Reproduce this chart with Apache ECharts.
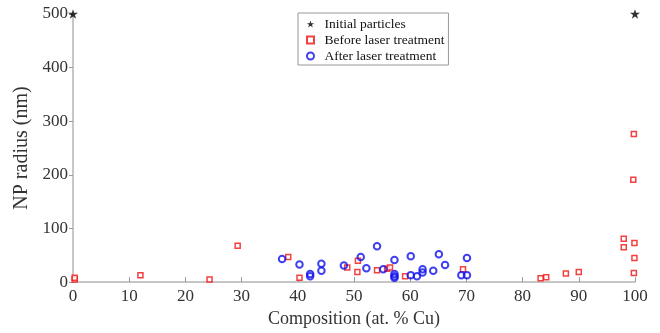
<!DOCTYPE html>
<html>
<head>
<meta charset="utf-8">
<script src="https://cdn.jsdelivr.net/npm/echarts@6/dist/echarts.min.js"></script>
<style>
  html, body { margin: 0; padding: 0; background: #fff; }
  #chart { width: 660px; height: 333px; }
</style>
</head>
<body>
<div id="chart"></div>
<script>
// initial particles (composition, radius)
const initialParticles = [[0, 500], [100, 500]];

// before laser treatment
const beforeLaser = [
  [0.3, 5], [0.3, 8], [12, 13], [24.3, 5], [29.3, 68],
  [38.3, 47], [40.3, 8], [48.8, 27], [50.7, 40], [50.6, 19],
  [54.1, 22], [55.9, 25], [56.4, 27], [59.1, 11], [69.4, 24],
  [83.2, 7], [84.2, 9], [87.7, 16], [90, 19],
  [98, 81], [98, 65], [99.9, 73], [99.9, 45], [99.8, 17],
  [99.8, 276], [99.7, 191]
];

// after laser treatment
const afterLaser = [
  [37.2, 43], [40.3, 33], [42.2, 15], [42.2, 11], [44.2, 34], [44.2, 21],
  [48.2, 31], [51.2, 47], [52.2, 26], [54.1, 67], [55.2, 24],
  [57.2, 41], [57.2, 15], [57.2, 11], [57.2, 8],
  [60.1, 48], [60.1, 13], [61.2, 11], [62.2, 24], [62.2, 18],
  [64.1, 21], [65.1, 52], [66.2, 32], [69.1, 13], [70.1, 45], [70.1, 13]
];

const seriesNames = ['Initial particles', 'Before laser treatment', 'After laser treatment'];
const xTitle = 'Composition (at. % Cu)';
const yTitle = 'NP radius (nm)';

const starPath = 'path://M50,0 L61.8,35.3 L99,35.3 L69,57.3 L80.4,92.7 L50,70.8 L19.6,92.7 L31,57.3 L1,35.3 L38.2,35.3 Z';
const squarePath = 'path://M0,0 L10,0 L10,10 L0,10 Z';
const fontFamily = '"Liberation Serif", "DejaVu Serif", serif';

const chart = echarts.init(document.getElementById('chart'));
chart.setOption({
  animation: false,
  backgroundColor: '#fff',
  textStyle: { fontFamily: fontFamily },
  grid: { left: 73, right: 25, top: 14, bottom: 45 },
  legend: {
    orient: 'vertical',
    left: 298,
    top: 13,
    width: 150,
    padding: [4, 4, 2, 8],
    itemGap: 2,
    itemWidth: 10,
    itemHeight: 7,
    symbolKeepAspect: true,
    borderColor: '#999',
    borderWidth: 1,
    textStyle: { fontFamily: fontFamily, fontSize: 13.5, color: '#111', padding: [0, 0, 0, 4] },
    data: [
      { name: seriesNames[0] },
      { name: seriesNames[1], icon: squarePath },
      { name: seriesNames[2] }
    ]
  },
  xAxis: {
    type: 'value',
    min: 0,
    max: 100,
    interval: 10,
    name: xTitle,
    nameLocation: 'middle',
    nameGap: 23,
    nameTextStyle: { fontFamily: fontFamily, fontSize: 18, color: '#333' },
    axisLine: { show: true, lineStyle: { color: '#b4b4b4', width: 1.5 } },
    axisTick: { show: true, inside: true, length: 5, lineStyle: { color: '#999' } },
    axisLabel: { fontFamily: fontFamily, fontSize: 17, color: '#333', margin: 6 },
    splitLine: { show: false }
  },
  yAxis: {
    type: 'value',
    min: 0,
    max: 500,
    interval: 100,
    name: yTitle,
    nameLocation: 'middle',
    nameGap: 30,
    nameTextStyle: { fontFamily: fontFamily, fontSize: 20, color: '#333' },
    axisLine: { show: true, lineStyle: { color: '#b4b4b4', width: 1.5 } },
    axisTick: { show: true, length: 4, lineStyle: { color: '#999' } },
    axisLabel: { fontFamily: fontFamily, fontSize: 17, color: '#333', margin: 5 },
    splitLine: { show: false }
  },
  series: [
    {
      name: seriesNames[0],
      type: 'scatter',
      symbol: starPath,
      symbolSize: 10,
      symbolKeepAspect: true,
      itemStyle: { color: '#000' },
      data: initialParticles,
      z: 5
    },
    {
      name: seriesNames[1],
      type: 'scatter',
      symbol: 'rect',
      symbolSize: 5,
      itemStyle: { color: '#fff', borderColor: '#f01010', borderWidth: 1.5 },
      data: beforeLaser,
      z: 3
    },
    {
      name: seriesNames[2],
      type: 'scatter',
      symbol: 'circle',
      symbolSize: 6.5,
      itemStyle: { color: 'rgba(255,255,255,0)', borderColor: '#1010ee', borderWidth: 2 },
      data: afterLaser,
      z: 4
    }
  ]
});
</script>
</body>
</html>
